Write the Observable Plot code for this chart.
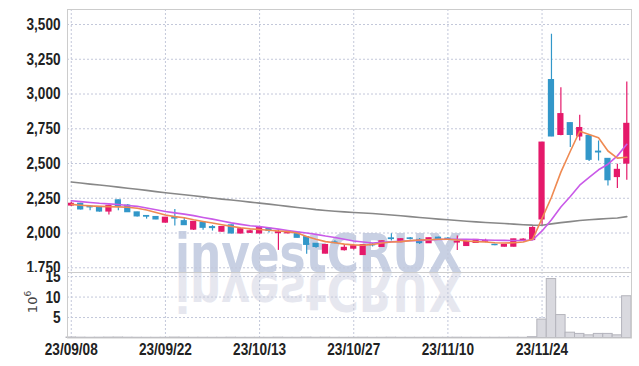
<!DOCTYPE html>
<html><head><meta charset="utf-8">
<script src="https://cdn.jsdelivr.net/npm/d3@7"></script>
<script src="https://cdn.jsdelivr.net/npm/@observablehq/plot@0.6"></script>
<style>
body{margin:0;background:#fff;}
#wrap{position:relative;width:639px;height:366px;overflow:hidden;}
#wm{position:absolute;left:0;top:0;}
#main{position:absolute;left:0;top:0;}
#vol{position:absolute;left:0;top:272px;}
</style></head><body>
<div id="wrap">
<svg id="wm" width="639" height="366">
  <text x="175" y="272" font-family="DejaVu Sans, sans-serif" font-weight="bold" font-size="54" fill="#c8d0e3" textLength="287" lengthAdjust="spacingAndGlyphs">investCRUX</text>
  <text x="175" y="272" transform="translate(0,545) scale(1,-1)" font-family="DejaVu Sans, sans-serif" font-weight="bold" font-size="54" fill="#e6e7ef" textLength="287" lengthAdjust="spacingAndGlyphs">investCRUX</text>
</svg>
<div id="main"></div><div id="vol"></div>
</div>
<script>
const dates = ["23/09/08","23/09/11","23/09/12","23/09/13","23/09/14","23/09/15","23/09/18","23/09/19","23/09/20","23/09/21",
"23/09/22","23/09/25","23/09/26","23/09/27","23/10/04","23/10/05","23/10/06","23/10/10","23/10/11","23/10/12",
"23/10/13","23/10/16","23/10/17","23/10/18","23/10/19","23/10/20","23/10/23","23/10/24","23/10/25","23/10/26",
"23/10/27","23/10/30","23/10/31","23/11/01","23/11/02","23/11/03","23/11/06","23/11/07","23/11/08","23/11/09",
"23/11/10","23/11/13","23/11/14","23/11/15","23/11/16","23/11/17","23/11/20","23/11/21","23/11/22","23/11/23",
"23/11/24","23/11/27","23/11/28","23/11/29","23/11/30","23/12/01","23/12/04","23/12/05","23/12/06","23/12/07"];
const tickDates = ["23/09/08","23/09/22","23/10/13","23/10/27","23/11/10","23/11/24"];
const priceTicks = [1750,2000,2250,2500,2750,3000,3250,3500];
const volTicks = [5,10,15];

const open  = [2198,2210,2190,2187,2155,2235,2197,2148,2122,2115,2075,2110,2085,2025,2075,2042,2010,2055,1997,2002,
1997,2030,2000,1998,2002,1970,1922,1852,1932,1877,1888,1842,1915,1900,1961,1935,1961,1950,1927,1966,
1959,1932,1907,1929,1938,1915,1902,1902,1948,1950,2098,3100,2706,2790,2695,2698,2585,2533,2403,2500];
const close = [2210,2170,2185,2155,2195,2192,2150,2120,2118,2098,2110,2105,2057,2080,2038,2036,2043,1997,2027,2012,
2037,2015,2005,2004,1966,1915,1900,1913,1928,1893,1905,1913,1912,1940,1957,1955,1958,1928,1962,1958,
1955,1937,1937,1950,1942,1913,1915,1954,1952,2036,2650,2695,2855,2706,2755,2527,2580,2380,2454,2785];
const high  = [2222,2215,2197,2190,2200,2238,2205,2150,2125,2118,2112,2170,2108,2082,2078,2053,2045,2058,2030,2020,
2040,2032,2025,2012,2005,1972,1925,1916,1945,1915,1920,1915,1925,1943,1995,1958,1968,1960,1965,1970,
1968,1978,1940,1952,1955,1920,1918,1956,1958,2045,2652,3430,3045,2792,2848,2700,2662,2535,2494,3087];
const low   = [2190,2165,2160,2150,2130,2160,2148,2115,2100,2095,2072,2050,2055,2018,2020,2014,2005,1995,1995,1997,
1995,2000,1875,1995,1964,1848,1890,1850,1922,1870,1878,1840,1900,1897,1942,1930,1950,1918,1925,1955,
1948,1875,1905,1927,1930,1908,1900,1900,1945,1948,2050,2693,2700,2615,2662,2515,2518,2338,2320,2380];
const volume = [0.12,0.08,0.06,0.07,0.09,0.1,0.07,0.06,0.05,0.05,0.06,0.1,0.07,0.06,0.06,0.05,0.05,0.07,0.05,0.05,
0.05,0.05,0.08,0.05,0.05,0.09,0.06,0.08,0.05,0.05,0.05,0.07,0.05,0.06,0.07,0.05,0.05,0.05,0.06,0.05,
0.05,0.07,0.05,0.05,0.05,0.05,0.05,0.07,0.05,0.2,4.5,14.4,5.6,1.3,1.0,0.65,1.0,1.0,0.65,10.2];
const ma5 = [2206,2200,2195,2192,2190,2188,2185,2178,2165,2148,2130,2118,2110,2095,2083,2072,2060,2048,2038,2030,
2025,2020,2015,2010,2000,1975,1955,1938,1930,1920,1915,1912,1918,1928,1935,1938,1945,1950,1952,1955,
1955,1950,1943,1938,1935,1930,1928,1930,1935,1955,2105,2257,2438,2588,2732,2708,2685,2590,2539,2545];
const ma10 = [2232,2226,2220,2214,2210,2205,2198,2192,2180,2168,2155,2145,2136,2125,2112,2100,2087,2073,2062,2052,
2046,2038,2028,2018,2008,2000,1990,1978,1968,1955,1943,1935,1928,1933,1937,1940,1944,1947,1950,1953,
1955,1955,1955,1953,1950,1948,1947,1946,1946,1950,2015,2095,2187,2263,2344,2400,2455,2495,2555,2638];
const ma60 = [2367,2360,2352,2345,2338,2330,2322,2315,2307,2298,2290,2282,2275,2268,2260,2252,2244,2237,2230,2222,
2215,2208,2200,2192,2184,2176,2168,2162,2157,2152,2148,2144,2140,2135,2130,2124,2118,2112,2106,2100,
2095,2090,2085,2080,2076,2072,2068,2064,2060,2057,2056,2066,2075,2082,2090,2096,2100,2104,2108,2118];

const FONT = "'Liberation Sans',Arial,sans-serif";
const UP = "#e5196a", DOWN = "#3297c9";
const idx = d3.range(dates.length);
const tickIdx = tickDates.map(d => dates.indexOf(d));
const color = i => close[i] >= open[i] ? UP : DOWN;
const gridStroke = "#c3c8da", dash = "2,2";
const xDomain = [-0.4, 59.5];

const main = Plot.plot({
  width: 639, height: 272, marginTop: 9, marginBottom: 0, marginLeft: 67, marginRight: 8,
  style: {background: "transparent", fontFamily: FONT, fontSize: "17px", color: "#222", fontWeight: "bold"},
  x: {domain: xDomain, axis: null},
  y: {domain: [1716, 3608], ticks: priceTicks, tickSize: 0, tickPadding: 7, tickFormat: d3.format(","), label: null},
  marks: [
    Plot.ruleX(tickIdx, {x: d => d, stroke: gridStroke, strokeDasharray: dash}),
    Plot.ruleY(priceTicks, {y: d => d, stroke: gridStroke, strokeDasharray: dash}),
    Plot.ruleX(idx, {x: i => i, y1: i => low[i], y2: i => high[i], stroke: color, strokeWidth: 1.2}),
    Plot.rect(idx, {x1: i => i - 0.33, x2: i => i + 0.33, y1: i => open[i], y2: i => close[i], fill: color, insetTop: -0.6, insetBottom: -0.6}),
    Plot.line(idx, {x: i => i, y: i => ma60[i], stroke: "#888", strokeWidth: 1.6}),
    Plot.line(idx, {x: i => i, y: i => ma10[i], stroke: "#c95ae8", strokeWidth: 1.6}),
    Plot.line(idx, {x: i => i, y: i => ma5[i], stroke: "#ef8a52", strokeWidth: 1.6}),
    Plot.frame({stroke: "#ccc"})
  ]
});
document.getElementById("main").appendChild(main);

const vol = Plot.plot({
  width: 639, height: 94, marginTop: 0, marginBottom: 28.5, marginLeft: 67, marginRight: 8,
  style: {background: "transparent", fontFamily: FONT, fontSize: "17px", color: "#222", fontWeight: "bold"},
  x: {domain: xDomain, ticks: tickIdx, tickFormat: i => dates[i], tickSize: 0, tickPadding: 5, label: null},
  y: {domain: [0, 16], ticks: volTicks, tickSize: 0, tickPadding: 7, label: null},
  marks: [
    Plot.ruleX(tickIdx, {x: d => d, stroke: gridStroke, strokeDasharray: dash}),
    Plot.ruleY(volTicks, {y: d => d, stroke: gridStroke, strokeDasharray: dash}),
    Plot.rect(idx, {x1: i => i - 0.5, x2: i => i + 0.5, y1: 0, y2: i => volume[i], fill: "#d9d9df", stroke: "#b4b4bc", strokeWidth: 1}),
    Plot.frame({stroke: "#ccc"})
  ]
});
document.getElementById("vol").appendChild(vol);

// narrow the tick labels (the reference uses a condensed face)
for (const svg of [main, vol]) {
  d3.select(svg).selectAll("g[aria-label$='tick label'] text").each(function() {
    const w = this.getComputedTextLength();
    this.setAttribute("textLength", (w * 0.8).toFixed(1));
    this.setAttribute("lengthAdjust", "spacingAndGlyphs");
  });
}

const lab = d3.select(vol).append("text")
  .attr("transform", "translate(37,30) rotate(-90)")
  .attr("text-anchor", "middle")
  .attr("fill", "#444")
  .style("font-family", "'DejaVu Sans',sans-serif").style("font-size", "13px").style("font-weight", "normal");
lab.append("tspan").text("10");
lab.append("tspan").attr("dy", "-6").style("font-size", "9px").text("6");
</script>
</body></html>
